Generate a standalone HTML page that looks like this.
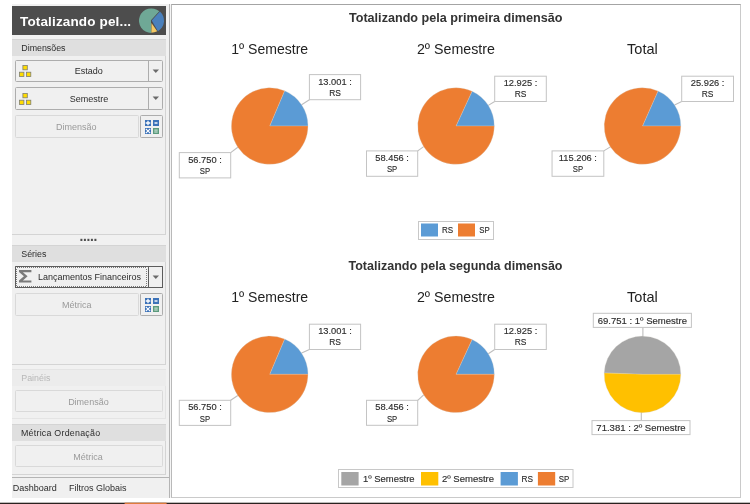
<!DOCTYPE html>
<html lang="pt-BR">
<head>
<meta charset="utf-8">
<title>Totalizando pela dimensão</title>
<style>
html,body{margin:0;padding:0;background:#fff;}
body{width:750px;height:504px;position:relative;overflow:hidden;font-family:"Liberation Sans", sans-serif;font-size:9px;color:#333;}
.abs{position:absolute;}
.side{position:absolute;left:12px;top:3.5px;width:157px;height:494px;background:#f1f1f1;}
.hdr{position:absolute;left:12px;top:6px;width:154px;height:29px;background:#4d4d4d;}
.hdr span{position:absolute;left:8px;top:7.9px;font-weight:bold;font-size:13.5px;color:#fff;white-space:nowrap;letter-spacing:0.15px;}
.panel{position:absolute;left:12px;width:153px;border:1px solid #d4d4d4;border-left:none;background:#f0f0f0;box-sizing:content-box;}
.band{position:absolute;left:12px;width:154px;height:16.5px;background:#dfdfdf;}
.band span,.bandl span{position:absolute;left:9.3px;top:3.7px;white-space:nowrap;color:#2c2c2c;font-size:8.85px;}
.bandl{position:absolute;left:12px;width:154px;height:16.5px;background:#ececec;}
.bandl span{color:#b8b8b8;}
.btn{position:absolute;box-sizing:border-box;border:1px solid #adadad;border-radius:1.5px;background:#f0f0f0;height:22px;}
.btn.dis{border-color:#d9d9d9;}
.btn .t{position:absolute;top:5.6px;white-space:nowrap;transform:translateX(-50%);color:#2c2c2c;}
.btn.dis .t{color:#9a9a9a;}
.sep{position:absolute;top:0;bottom:0;width:1px;background:#adadad;}
.arr{position:absolute;width:0;height:0;border-left:2.8px solid transparent;border-right:2.8px solid transparent;border-top:3px solid #777;}
.tab{position:absolute;top:483.2px;white-space:nowrap;color:#2c2c2c;}
svg text{font-family:"Liberation Sans", sans-serif;}
.tt{font-weight:bold;font-size:12px;fill:#333;text-anchor:middle;}
.pt{font-size:14.2px;fill:#222;text-anchor:middle;}
.lb{font-size:9.3px;fill:#2e2e2e;stroke:#2e2e2e;stroke-width:0.15px;text-anchor:middle;}
.lg{font-size:9px;fill:#2e2e2e;stroke:#2e2e2e;stroke-width:0.15px;}
</style>
</head>
<body>
<!-- sidebar -->
<div class="side"></div>
<div class="abs" style="left:12px;top:477px;width:157px;height:20.6px;background:#f0f0f0"></div>
<div class="hdr"><span>Totalizando pel...</span>
<svg class="abs" style="left:126px;top:1px" width="28" height="28" viewBox="0 0 28 28">
<path d="M12.95,13.20 L21.29,4.35 A12.3,12.3 0 1 0 13.30,26.00 Z" fill="#6fa896"/>
<path d="M13.75,13.55 L19.94,24.30 A12.3,12.3 0 0 0 21.93,4.56 Z" fill="#4a80bc"/>
<path d="M13.45,15.90 L13.40,25.80 A12.2,12.2 0 0 0 19.22,24.32 Z" fill="#f5c863"/>
</svg>
</div>

<div class="panel" style="top:39px;height:194px"></div>
<div class="band" style="top:40px;height:16px"><span style="top:2.7px">Dimensões</span></div>
<div class="btn" style="left:15px;top:60px;width:148px"><span class="t" style="left:72.7px;top:5px">Estado</span><div class="sep" style="left:132px"></div><svg class="abs" style="left:136.3px;top:8.3px" width="8" height="5" viewBox="0 0 8 5"><path d="M0.6,0.4 H7 L3.8,3.9 Z" fill="#6a6a6a"/></svg></div>
<svg class="abs" style="left:19px;top:65px" width="13" height="13" viewBox="0 0 13 13"><rect x="3.9" y="0.5" width="4.4" height="4.3" fill="#ffdc00" stroke="#7e7e72" stroke-width="0.8"/><rect x="0.5" y="7.2" width="4.4" height="4.3" fill="#ffdc00" stroke="#7e7e72" stroke-width="0.8"/><rect x="7.4" y="7.2" width="4.4" height="4.3" fill="#ffdc00" stroke="#7e7e72" stroke-width="0.8"/></svg>
<div class="btn" style="left:15px;top:87px;height:23px;width:148px"><span class="t" style="left:73px">Semestre</span><div class="sep" style="left:132px"></div><svg class="abs" style="left:136.3px;top:8.3px" width="8" height="5" viewBox="0 0 8 5"><path d="M0.6,0.4 H7 L3.8,3.9 Z" fill="#6a6a6a"/></svg></div>
<svg class="abs" style="left:19px;top:92.5px" width="13" height="13" viewBox="0 0 13 13"><rect x="3.9" y="0.5" width="4.4" height="4.3" fill="#ffdc00" stroke="#7e7e72" stroke-width="0.8"/><rect x="0.5" y="7.2" width="4.4" height="4.3" fill="#ffdc00" stroke="#7e7e72" stroke-width="0.8"/><rect x="7.4" y="7.2" width="4.4" height="4.3" fill="#ffdc00" stroke="#7e7e72" stroke-width="0.8"/></svg>
<div class="btn dis" style="left:15px;top:115px;height:23px;width:124px"><span class="t" style="left:60.3px">Dimensão</span></div>
<div class="btn" style="left:140.3px;top:115px;height:23px;width:22.6px"></div>
<svg class="abs" style="left:144.5px;top:119.5px" width="14" height="14" viewBox="0 0 14 14">
<rect x="0" y="0" width="6" height="6" fill="#3c72b8"/><path d="M3 0.7v4.6M0.7 3h4.6" stroke="#fff" stroke-width="1.3"/>
<rect x="8" y="0" width="6" height="6" fill="#3c72b8"/><path d="M9.5 3h3" stroke="#fff" stroke-width="1.4"/>
<rect x="0" y="8" width="6" height="6" fill="#3c72b8"/><path d="M0.8 8.8l4.4 4.4M5.2 8.8l-4.4 4.4" stroke="#fff" stroke-width="1.1"/>
<rect x="8" y="8" width="6" height="6" fill="#5c9a7d"/><path d="M9.3 10.1h3.4M9.3 12h3.4" stroke="#dcefe4" stroke-width="1"/>
</svg>

<svg class="abs" style="left:80px;top:238px" width="18" height="4" viewBox="0 0 18 4"><rect x="0.40" y="0.8" width="2" height="2.2" fill="#4f4f4f"/><rect x="3.90" y="0.8" width="2" height="2.2" fill="#4f4f4f"/><rect x="7.40" y="0.8" width="2" height="2.2" fill="#4f4f4f"/><rect x="10.90" y="0.8" width="2" height="2.2" fill="#4f4f4f"/><rect x="14.40" y="0.8" width="2" height="2.2" fill="#4f4f4f"/></svg>

<div class="panel" style="top:245px;height:118px"></div>
<div class="band" style="top:245.5px"><span>Séries</span></div>
<div class="btn" style="left:15px;top:266.3px;width:148px;border-color:#5c5c5c;border-radius:0.5px"><div class="abs" style="left:0;top:0;width:128.6px;height:18px;border:1px solid #7a7a7a"></div><div class="abs" style="left:0;top:0;width:128.6px;height:18px;border:1px dotted #f4f4f4"></div><span class="t" style="left:73.6px;top:5px">Lançamentos Financeiros</span><div class="sep" style="left:132px;background:#5c5c5c"></div><svg class="abs" style="left:136.3px;top:7.6px" width="8" height="5" viewBox="0 0 8 5"><path d="M0.6,0.4 H7 L3.8,3.9 Z" fill="#6a6a6a"/></svg></div>
<svg class="abs" style="left:18.8px;top:270.2px" width="13" height="13" viewBox="0 0 13 13"><path d="M0,0 H12.4 V2.2 H3.9 L8.6,6.3 L3.9,10.4 H12.4 V12.6 H0 V10.6 L4.9,6.3 L0,2 Z" fill="#7a7a7a"/></svg>
<div class="btn dis" style="left:15px;top:293px;height:23px;width:124px"><span class="t" style="left:60.8px">Métrica</span></div>
<div class="btn" style="left:140.3px;top:293px;height:23px;width:22.6px"></div>
<svg class="abs" style="left:144.5px;top:297.9px" width="14" height="14" viewBox="0 0 14 14">
<rect x="0" y="0" width="6" height="6" fill="#3c72b8"/><path d="M3 0.7v4.6M0.7 3h4.6" stroke="#fff" stroke-width="1.3"/>
<rect x="8" y="0" width="6" height="6" fill="#3c72b8"/><path d="M9.5 3h3" stroke="#fff" stroke-width="1.4"/>
<rect x="0" y="8" width="6" height="6" fill="#3c72b8"/><path d="M0.8 8.8l4.4 4.4M5.2 8.8l-4.4 4.4" stroke="#fff" stroke-width="1.1"/>
<rect x="8" y="8" width="6" height="6" fill="#5c9a7d"/><path d="M9.3 10.1h3.4M9.3 12h3.4" stroke="#dcefe4" stroke-width="1"/>
</svg>

<div class="panel" style="top:369px;height:48px;border-color:#e4e4e4"></div>
<div class="bandl" style="top:369.5px"><span>Painéis</span></div>
<div class="btn dis" style="left:15px;top:390px;width:148px"><span class="t" style="left:72.4px">Dimensão</span></div>

<div class="panel" style="top:424px;height:49px"></div>
<div class="band" style="top:424.6px;height:16.4px"><span style="top:3.4px;left:9px;letter-spacing:0.24px">Métrica Ordenação</span></div>
<div class="btn dis" style="left:15px;top:445.3px;width:148px"><span class="t" style="left:72px">Métrica</span></div>

<div class="abs" style="left:12px;top:476.5px;width:157.5px;height:1px;background:#b4b4b4"></div>
<span class="tab" style="left:12.8px">Dashboard</span>
<span class="tab" style="left:69px">Filtros Globais</span>

<!-- splitter + chart panel -->
<div class="abs" style="left:170px;top:4px;width:1px;height:494px;background:#f5f5f5"></div>
<div class="abs" style="left:169px;top:3.5px;width:1px;height:494.2px;background:#b4b4b4"></div>
<div class="abs" style="left:171px;top:4px;width:568px;height:492px;border:1px solid #b9b9b9;border-top-color:#a4a4a4;border-right-color:#cacaca;border-bottom-color:#cacaca;background:#fff;box-sizing:content-box"></div>
<svg class="abs" style="left:0;top:0" width="750" height="504" viewBox="0 0 750 504">
<text x="455.7" y="22.3" class="tt" textLength="213.5" lengthAdjust="spacingAndGlyphs">Totalizando pela primeira dimensão</text>
<text x="455.5" y="269.8" class="tt" textLength="214" lengthAdjust="spacingAndGlyphs">Totalizando pela segunda dimensão</text>
<text x="269.7" y="54.0" class="pt" textLength="77" lengthAdjust="spacingAndGlyphs">1º Semestre</text>
<text x="455.9" y="54.0" class="pt" textLength="78" lengthAdjust="spacingAndGlyphs">2º Semestre</text>
<text x="642.4" y="54.0" class="pt" textLength="30.7" lengthAdjust="spacingAndGlyphs">Total</text>
<text x="269.7" y="302.3" class="pt" textLength="77" lengthAdjust="spacingAndGlyphs">1º Semestre</text>
<text x="455.9" y="302.3" class="pt" textLength="78" lengthAdjust="spacingAndGlyphs">2º Semestre</text>
<text x="642.4" y="302.3" class="pt" textLength="30.7" lengthAdjust="spacingAndGlyphs">Total</text>
<line x1="301.6" y1="104.8" x2="309.4" y2="99.7" stroke="#bebebe" stroke-width="1.1"/>
<line x1="237.8" y1="147.2" x2="230.7" y2="152.6" stroke="#bebebe" stroke-width="1.1"/>
<path d="M269.70,126.00 L308.00,126.00 A38.3,38.3 0 0 0 284.60,90.72 Z" fill="#5b9bd5" stroke="#d8d2cc" stroke-opacity="0.55" stroke-width="0.5"/>
<path d="M269.70,126.00 L284.60,90.72 A38.3,38.3 0 1 0 308.00,126.00 Z" fill="#ed7d31" stroke="#d8d2cc" stroke-opacity="0.55" stroke-width="0.5"/>
<rect x="309.4" y="74.6" width="51.20" height="25.10" fill="#fff" stroke="#c4c4c4" stroke-width="1"/><text x="335.0" y="84.7" class="lb">13.001 :</text><text x="335.0" y="95.8" class="lb" textLength="11.7" lengthAdjust="spacingAndGlyphs">RS</text>
<rect x="179.3" y="152.6" width="51.40" height="25.30" fill="#fff" stroke="#c4c4c4" stroke-width="1"/><text x="205.0" y="162.7" class="lb">56.750 :</text><text x="205.0" y="173.8" class="lb" textLength="10.3" lengthAdjust="spacingAndGlyphs">SP</text>
<line x1="488.3" y1="105.4" x2="494.7" y2="101.5" stroke="#bebebe" stroke-width="1.1"/>
<line x1="423.7" y1="146.6" x2="417.7" y2="150.9" stroke="#bebebe" stroke-width="1.1"/>
<path d="M456.00,126.00 L494.30,126.00 A38.3,38.3 0 0 0 472.07,91.24 Z" fill="#5b9bd5" stroke="#d8d2cc" stroke-opacity="0.55" stroke-width="0.5"/>
<path d="M456.00,126.00 L472.07,91.24 A38.3,38.3 0 1 0 494.30,126.00 Z" fill="#ed7d31" stroke="#d8d2cc" stroke-opacity="0.55" stroke-width="0.5"/>
<rect x="494.7" y="76.2" width="51.60" height="25.30" fill="#fff" stroke="#c4c4c4" stroke-width="1"/><text x="520.5" y="86.3" class="lb">12.925 :</text><text x="520.5" y="97.4" class="lb" textLength="11.7" lengthAdjust="spacingAndGlyphs">RS</text>
<rect x="366.5" y="150.9" width="51.20" height="25.40" fill="#fff" stroke="#c4c4c4" stroke-width="1"/><text x="392.1" y="161.0" class="lb">58.456 :</text><text x="392.1" y="172.1" class="lb" textLength="10.3" lengthAdjust="spacingAndGlyphs">SP</text>
<line x1="674.6" y1="105.1" x2="681.7" y2="101.5" stroke="#bebebe" stroke-width="1.1"/>
<line x1="610.4" y1="146.9" x2="603.8" y2="150.9" stroke="#bebebe" stroke-width="1.1"/>
<path d="M642.50,126.00 L680.80,126.00 A38.3,38.3 0 0 0 658.00,90.98 Z" fill="#5b9bd5" stroke="#d8d2cc" stroke-opacity="0.55" stroke-width="0.5"/>
<path d="M642.50,126.00 L658.00,90.98 A38.3,38.3 0 1 0 680.80,126.00 Z" fill="#ed7d31" stroke="#d8d2cc" stroke-opacity="0.55" stroke-width="0.5"/>
<rect x="681.7" y="76.2" width="51.80" height="25.30" fill="#fff" stroke="#c4c4c4" stroke-width="1"/><text x="707.6" y="86.3" class="lb">25.926 :</text><text x="707.6" y="97.4" class="lb" textLength="11.7" lengthAdjust="spacingAndGlyphs">RS</text>
<rect x="552.05" y="150.9" width="51.75" height="25.40" fill="#fff" stroke="#c4c4c4" stroke-width="1"/><text x="577.9" y="161.0" class="lb">115.206 :</text><text x="577.9" y="172.1" class="lb" textLength="10.3" lengthAdjust="spacingAndGlyphs">SP</text>
<line x1="301.6" y1="353.1" x2="309.4" y2="349.5" stroke="#bebebe" stroke-width="1.1"/>
<line x1="237.8" y1="395.5" x2="230.7" y2="400.3" stroke="#bebebe" stroke-width="1.1"/>
<path d="M269.70,374.30 L308.00,374.30 A38.3,38.3 0 0 0 284.60,339.02 Z" fill="#5b9bd5" stroke="#d8d2cc" stroke-opacity="0.55" stroke-width="0.5"/>
<path d="M269.70,374.30 L284.60,339.02 A38.3,38.3 0 1 0 308.00,374.30 Z" fill="#ed7d31" stroke="#d8d2cc" stroke-opacity="0.55" stroke-width="0.5"/>
<rect x="309.4" y="324.2" width="51.20" height="25.30" fill="#fff" stroke="#c4c4c4" stroke-width="1"/><text x="335.0" y="334.3" class="lb">13.001 :</text><text x="335.0" y="345.4" class="lb" textLength="11.7" lengthAdjust="spacingAndGlyphs">RS</text>
<rect x="179.3" y="400.3" width="51.40" height="25.10" fill="#fff" stroke="#c4c4c4" stroke-width="1"/><text x="205.0" y="410.4" class="lb">56.750 :</text><text x="205.0" y="421.5" class="lb" textLength="10.3" lengthAdjust="spacingAndGlyphs">SP</text>
<line x1="488.3" y1="353.7" x2="494.7" y2="349.5" stroke="#bebebe" stroke-width="1.1"/>
<line x1="423.7" y1="394.9" x2="417.7" y2="400.3" stroke="#bebebe" stroke-width="1.1"/>
<path d="M456.00,374.30 L494.30,374.30 A38.3,38.3 0 0 0 472.07,339.54 Z" fill="#5b9bd5" stroke="#d8d2cc" stroke-opacity="0.55" stroke-width="0.5"/>
<path d="M456.00,374.30 L472.07,339.54 A38.3,38.3 0 1 0 494.30,374.30 Z" fill="#ed7d31" stroke="#d8d2cc" stroke-opacity="0.55" stroke-width="0.5"/>
<rect x="494.7" y="324.2" width="51.60" height="25.30" fill="#fff" stroke="#c4c4c4" stroke-width="1"/><text x="520.5" y="334.3" class="lb">12.925 :</text><text x="520.5" y="345.4" class="lb" textLength="11.7" lengthAdjust="spacingAndGlyphs">RS</text>
<rect x="366.5" y="400.3" width="51.20" height="25.00" fill="#fff" stroke="#c4c4c4" stroke-width="1"/><text x="392.1" y="410.4" class="lb">58.456 :</text><text x="392.1" y="421.5" class="lb" textLength="10.3" lengthAdjust="spacingAndGlyphs">SP</text>
<line x1="642.9" y1="327.4" x2="642.9" y2="337" stroke="#bebebe" stroke-width="1.1"/>
<line x1="641.3" y1="412" x2="641.3" y2="420.6" stroke="#bebebe" stroke-width="1.1"/>
<path d="M642.50,374.30 L680.80,374.30 A38.3,38.3 0 0 0 604.23,372.91 Z" fill="#a5a5a5" stroke="#d8d2cc" stroke-opacity="0.55" stroke-width="0.5"/>
<path d="M642.50,374.30 L604.23,372.91 A38.3,38.3 0 1 0 680.80,374.30 Z" fill="#ffc000" stroke="#d8d2cc" stroke-opacity="0.55" stroke-width="0.5"/>
<rect x="593.3" y="313.3" width="98.10" height="14.10" fill="#fff" stroke="#c4c4c4" stroke-width="1"/><text x="642.3" y="323.9" class="lb" textLength="89.3" lengthAdjust="spacingAndGlyphs">69.751 : 1º Semestre</text>
<rect x="592.0" y="420.6" width="98.00" height="14.00" fill="#fff" stroke="#c4c4c4" stroke-width="1"/><text x="641.0" y="431.2" class="lb" textLength="89.3" lengthAdjust="spacingAndGlyphs">71.381 : 2º Semestre</text>
<rect x="418.5" y="221.5" width="75" height="18" fill="#fff" stroke="#c8c8c8"/>
<rect x="421" y="223.5" width="17" height="13" fill="#5b9bd5"/>
<text x="442" y="233.1" class="lg" textLength="11.2" lengthAdjust="spacingAndGlyphs">RS</text>
<rect x="458" y="223.5" width="17" height="13" fill="#ed7d31"/>
<text x="479.3" y="233.1" class="lg" textLength="10.4" lengthAdjust="spacingAndGlyphs">SP</text>
<rect x="338.5" y="469.5" width="234.5" height="18" fill="#fff" stroke="#c8c8c8"/>
<rect x="341.3" y="472" width="17.3" height="13.5" fill="#a5a5a5"/>
<text x="363" y="481.6" class="lg" textLength="51.6" lengthAdjust="spacingAndGlyphs">1º Semestre</text>
<rect x="421" y="472" width="17.3" height="13.5" fill="#ffc000"/>
<text x="441.9" y="481.6" class="lg" textLength="52.2" lengthAdjust="spacingAndGlyphs">2º Semestre</text>
<rect x="500.6" y="472" width="17.3" height="13.5" fill="#5b9bd5"/>
<text x="521.6" y="481.6" class="lg" textLength="11.5" lengthAdjust="spacingAndGlyphs">RS</text>
<rect x="537.9" y="472" width="17.3" height="13.5" fill="#ed7d31"/>
<text x="558.7" y="481.6" class="lg" textLength="10.5" lengthAdjust="spacingAndGlyphs">SP</text>
</svg>
<!-- bottom edge -->
<svg class="abs" style="left:0;top:500px" width="750" height="4" viewBox="0 0 750 4"><rect x="0" y="2.7" width="750" height="1.3" fill="#2a2220"/><rect x="124.6" y="2.7" width="42" height="1.3" fill="#e07b3c"/></svg>
</body>
</html>
